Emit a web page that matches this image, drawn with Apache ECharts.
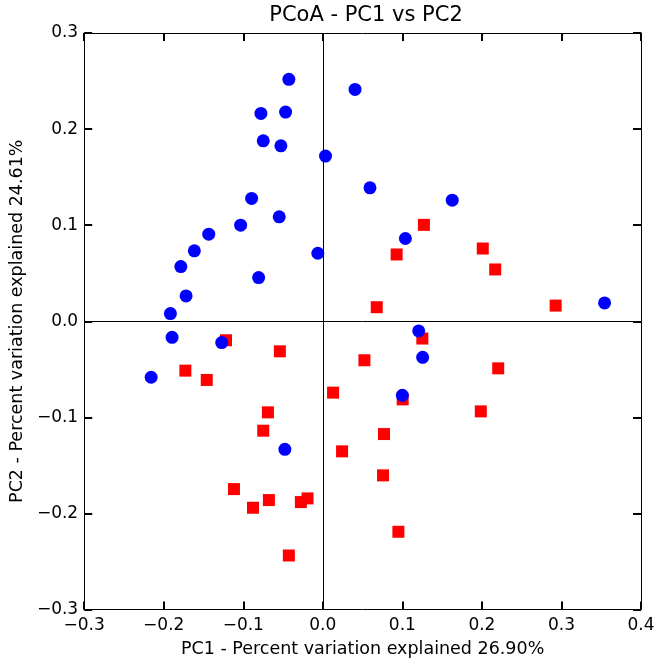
<!DOCTYPE html>
<html>
<head>
<meta charset="utf-8">
<script src="https://cdn.jsdelivr.net/npm/echarts@6/dist/echarts.min.js"></script>
<style>
html,body{margin:0;padding:0;background:#fff;}
#chart{width:662px;height:667px;}
</style>
</head>
<body>
<div id="chart"></div>
<script>
var blueX = [-0.0427, 0.0405, -0.0778, -0.0468, -0.0749, -0.0527, 0.0034, -0.0895, -0.0548, -0.1033,
  -0.1434, -0.1615, -0.1785, -0.0063, -0.0807, -0.1719, -0.1916, -0.1895, -0.1271, -0.2158,
  -0.0477, 0.0593, 0.1627, 0.1038, 0.3542, 0.1205, 0.1255, 0.1000];
var blueY = [0.2518, 0.2413, 0.2163, 0.2177, 0.1878, 0.1826, 0.1719, 0.1278, 0.1087, 0.1000,
  0.0906, 0.0733, 0.0569, 0.0708, 0.0455, 0.0264, 0.0080, -0.0167, -0.0222, -0.0583,
  -0.1333, 0.1389, 0.1260, 0.0861, 0.0191, -0.0101, -0.0375, -0.0771];
var redX = [-0.1217, -0.0540, -0.1728, -0.1459, -0.0690, -0.0749, -0.1117, -0.0878, -0.0678, -0.0276,
  -0.0192, -0.0427, 0.0129, 0.0242, 0.1271, 0.0928, 0.2011, 0.2167, 0.0678, 0.2927,
  0.1251, 0.0523, 0.2205, 0.1004, 0.1986, 0.0769, 0.0757, 0.0950];
var redY = [-0.0198, -0.0313, -0.0514, -0.0611, -0.0948, -0.1139, -0.1747, -0.1941, -0.1861, -0.1882,
  -0.1844, -0.2438, -0.0743, -0.1354, 0.1003, 0.0695, 0.0757, 0.0539, 0.0146, 0.0163,
  -0.0180, -0.0406, -0.0490, -0.0813, -0.0938, -0.1174, -0.1604, -0.2191];
var xTicks = [-0.3, -0.2, -0.1, 0.0, 0.1, 0.2, 0.3, 0.4];
var yTicks = [-0.3, -0.2, -0.1, 0.0, 0.1, 0.2, 0.3];

function zip(a, b) { return a.map(function (v, i) { return [v, b[i]]; }); }
function fmt(v) {
  var s = Math.abs(v).toFixed(1);
  return (v < -1e-9 ? '\u2212' : '') + s;
}
var font = 'DejaVu Sans';
var lineStyle = { color: '#000', width: 1 };
var tickStyle = { inside: true, length: 8, lineStyle: { color: '#000', width: 2 } };

function xAx(pos, labels) {
  return {
    type: 'value', position: pos, min: xTicks[0], max: xTicks[xTicks.length - 1], interval: 0.1,
    axisLine: { show: true, onZero: false, lineStyle: lineStyle },
    axisTick: tickStyle, splitLine: { show: false },
    axisLabel: { show: labels, fontFamily: font, fontSize: 17, color: '#000', margin: 8, formatter: fmt },
    name: labels ? 'PC1 - Percent variation explained 26.90%' : '',
    nameLocation: 'middle', nameGap: 31,
    nameTextStyle: { fontFamily: font, fontSize: 17.5, color: '#000' }
  };
}
function yAx(pos, labels) {
  return {
    type: 'value', position: pos, min: yTicks[0], max: yTicks[yTicks.length - 1], interval: 0.1,
    axisLine: { show: true, onZero: false, lineStyle: lineStyle },
    axisTick: tickStyle, splitLine: { show: false },
    axisLabel: { show: labels, fontFamily: font, fontSize: 17, color: '#000', margin: 6, formatter: fmt },
    name: labels ? 'PC2 - Percent variation explained 24.61%' : '',
    nameLocation: 'middle', nameGap: 53,
    nameTextStyle: { fontFamily: font, fontSize: 17.5, color: '#000' }
  };
}

var chart = echarts.init(document.getElementById('chart'), null, { renderer: 'canvas' });
chart.setOption({
  animation: false,
  backgroundColor: '#fff',
  title: {
    text: 'PCoA - PC1 vs PC2', left: 361, top: 0, textAlign: 'center',
    textStyle: { fontFamily: font, fontSize: 21, fontWeight: 'normal', color: '#000' }
  },
  grid: { left: 82.5, right: 21, top: 33, bottom: 57.5, containLabel: false },
  xAxis: [xAx('bottom', true), xAx('top', false)],
  yAxis: [yAx('left', true), yAx('right', false)],
  series: [
    {
      name: 'red', type: 'scatter', symbol: 'rect', symbolSize: 12,
      itemStyle: { color: '#ff0000', opacity: 1 },
      data: zip(redX, redY),
      markLine: {
        silent: true, symbol: 'none', label: { show: false },
        lineStyle: { color: '#000', width: 1, type: 'solid', opacity: 1 },
        data: [{ xAxis: 0 }, { yAxis: 0 }]
      }
    },
    {
      name: 'blue', type: 'scatter', symbol: 'circle', symbolSize: 13,
      itemStyle: { color: '#0000ff', opacity: 1 },
      data: zip(blueX, blueY)
    }
  ]
});
</script>
</body>
</html>
